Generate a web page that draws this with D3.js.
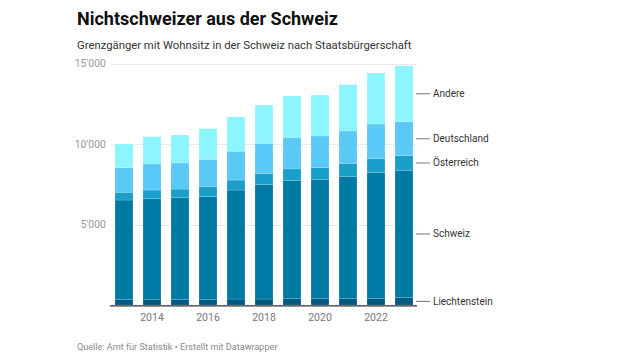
<!DOCTYPE html>
<html><head><meta charset="utf-8">
<script src="https://cdn.jsdelivr.net/npm/d3@7/dist/d3.min.js"></script>
<style>
body{margin:0;background:#fff;}
svg{display:block;font-family:Roboto, "Noto Sans", sans-serif;}
</style></head>
<body><svg id="c" width="640" height="360"></svg>
<script>
const years = [2013,2014,2015,2016,2017,2018,2019,2020,2021,2022,2023];
const liechtenstein = [330,330,330,340,370,370,390,390,390,400,450];
const schweiz = [6190,6270,6330,6390,6770,7110,7350,7390,7600,7840,7920];
const oesterreich = [480,540,540,620,620,700,710,750,810,850,900];
const deutschland = [1530,1620,1620,1700,1790,1860,1960,1970,2010,2150,2110];
const andere = [1470,1690,1740,1900,2130,2380,2570,2540,2870,3170,3480];
const seriesNames = ["Liechtenstein","Schweiz","Österreich","Deutschland","Andere"];
const seriesColors = ["#005a80","#0079a5","#1a9fcb","#5bc9f7","#8cf5ff"];
const yTicks = [0,5000,10000,15000];
const xTickYears = [2014,2016,2018,2020,2022];

const svg = d3.select("#c");
const x = d3.scaleBand().domain(years).range([110,418]).paddingInner(10/28).paddingOuter(5/28);
const y = d3.scaleLinear().domain([0,15000]).range([305,63.5]);

const table = years.map((yr,i)=>({year:yr, Liechtenstein:liechtenstein[i], Schweiz:schweiz[i], "Österreich":oesterreich[i], Deutschland:deutschland[i], Andere:andere[i]}));
const stack = d3.stack().keys(seriesNames)(table);

// title
svg.append("text").attr("x",77).attr("y",24.5).attr("font-size",18).attr("font-weight",700).attr("fill","#111").text("Nichtschweizer aus der Schweiz");
svg.append("text").attr("x",77).attr("y",48.5).attr("font-size",11.3).attr("fill","#333").text("Grenzgänger mit Wohnsitz in der Schweiz nach Staatsbürgerschaft");

// gridlines
const g = svg.append("g");
g.selectAll("line.grid").data(yTicks.filter(d=>d>0)).join("line")
  .attr("x1",111).attr("x2",417).attr("y1",d=>Math.round(y(d))+0.5).attr("y2",d=>Math.round(y(d))+0.5)
  .attr("stroke","#e9e9e9").attr("stroke-width",1);
g.selectAll("text.yt").data(yTicks.filter(d=>d>0)).join("text")
  .attr("x",106).attr("y",d=>y(d)).attr("dy","0.35em").attr("text-anchor","end")
  .attr("font-size",10.5).attr("fill","#9a9a9a")
  .text(d=>d3.format(",")(d).replace(/,/g,"'"));

// bars
svg.append("g").selectAll("g").data(stack).join("g")
  .attr("fill",(d,i)=>seriesColors[i])
  .selectAll("rect").data(d=>d).join("rect")
  .attr("x",d=>x(d.data.year)).attr("width",x.bandwidth())
  .attr("y",d=>y(d[1])).attr("height",d=>y(d[0])-y(d[1]))
  .attr("stroke","rgba(255,255,255,0.25)").attr("stroke-width",0.6);

// axis line
svg.append("line").attr("x1",110).attr("x2",417).attr("y1",305.8).attr("y2",305.8).attr("stroke","#333").attr("stroke-width",1.2);

// x labels
svg.append("g").selectAll("text").data(xTickYears).join("text")
  .attr("x",d=>x(d)+x.bandwidth()/2).attr("y",321).attr("text-anchor","middle")
  .attr("font-size",10.5).attr("fill","#777").text(d=>d);

// direct labels at last bar
const last = stack.map((s,i)=>({name:seriesNames[i], mid:(y(s[s.length-1][0])+y(s[s.length-1][1]))/2}));
const lg = svg.append("g");
lg.selectAll("line").data(last).join("line")
  .attr("x1",416).attr("x2",430).attr("y1",d=>d.mid).attr("y2",d=>d.mid)
  .attr("stroke","#777").attr("stroke-width",1);
lg.selectAll("text").data(last).join("text")
  .attr("x",433).attr("y",d=>d.mid).attr("dy","0.35em")
  .attr("font-size",10).attr("fill","#333").text(d=>d.name);

// footer
svg.append("text").attr("x",77).attr("y",350).attr("font-size",9.1).attr("fill","#8a8a8a").text("Quelle: Amt für Statistik • Erstellt mit Datawrapper");
</script></body></html>
